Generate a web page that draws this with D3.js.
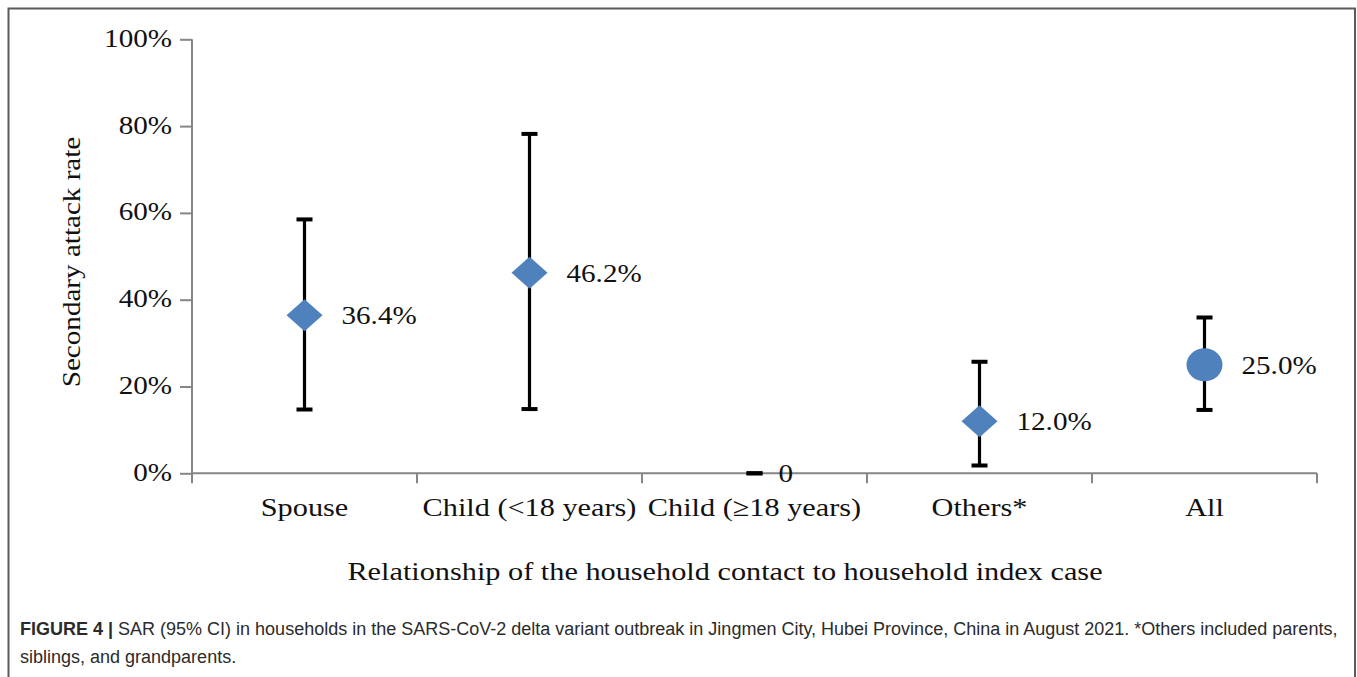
<!DOCTYPE html>
<html>
<head>
<meta charset="utf-8">
<script src="https://cdn.jsdelivr.net/npm/d3@7"></script>
<style>
  html, body { margin: 0; padding: 0; background: #ffffff; }
  svg { display: block; }
</style>
</head>
<body>
<svg id="chart" width="1357" height="677"></svg>
<script>
// Secondary attack rate by relationship to the index case (point estimate + 95% CI)
const categories = ["Spouse", "Child (<18 years)", "Child (\u226518 years)", "Others*", "All"];
const sar = [36.4, 46.2, 0, 12.0, 25.0];
const ciLower = [14.7, 14.8, 0, 1.8, 14.6];
const ciUpper = [58.5, 78.2, 0, 25.7, 35.9];
const markerShape = ["diamond", "diamond", "dash", "diamond", "circle"];
const valueLabels = ["36.4%", "46.2%", "0", "12.0%", "25.0%"];
const yTicks = [0, 20, 40, 60, 80, 100];

const captionBold = "FIGURE 4 |";
const captionLine1 = " SAR (95% CI) in households in the SARS-CoV-2 delta variant outbreak in Jingmen City, Hubei Province, China in August 2021. *Others included parents,";
const captionLine2 = "siblings, and grandparents.";

const svg = d3.select("#chart");
const serif = "'Liberation Serif', 'Times New Roman', serif";
const stretch = 1.165; // horizontal widening of the serif chart lettering
const blue = "#4f81bd";
const axisGrey = "#868686";

// frame around the figure
svg.append("rect")
  .attr("x", 8.5).attr("y", 8.5)
  .attr("width", 1346.5).attr("height", 720)
  .attr("fill", "none").attr("stroke", "#5a5a5a").attr("stroke-width", 2);

const plot = { left: 192, right: 1317, top: 39.3, bottom: 473.3 };

const x = d3.scaleBand().domain(categories).range([plot.left, plot.right]).padding(0);
const y = d3.scaleLinear().domain([0, 100]).range([plot.bottom, plot.top]);

// y axis
const yAxis = svg.append("g")
  .attr("transform", `translate(${plot.left},0)`)
  .call(d3.axisLeft(y).tickValues(yTicks).tickSize(12).tickPadding(8)
    .tickFormat(d => d + "%"));
yAxis.select(".domain").attr("stroke", axisGrey).attr("stroke-width", 2)
  .attr("d", `M0,${plot.top}V${plot.bottom}`);
yAxis.selectAll(".tick line").attr("stroke", axisGrey).attr("stroke-width", 2);
yAxis.selectAll(".tick text")
  .attr("font-family", serif).attr("font-size", 25).attr("fill", "#111")
  .attr("dy", null).attr("y", 0)
  .each(function () {
    const t = d3.select(this);
    const tx = +t.attr("x");
    t.attr("x", 0).attr("transform", `translate(${tx},7) scale(${stretch},1)`);
  });

// x axis baseline with ticks at category boundaries
const xAxis = svg.append("g").attr("transform", `translate(0,${plot.bottom})`);
xAxis.append("line")
  .attr("x1", plot.left).attr("x2", plot.right)
  .attr("stroke", axisGrey).attr("stroke-width", 2);
const edges = categories.map(c => x(c)).concat([x(categories[categories.length - 1]) + x.bandwidth()]);
xAxis.selectAll("line.edge").data(edges).join("line")
  .attr("class", "edge")
  .attr("x1", d => d).attr("x2", d => d)
  .attr("y1", 0).attr("y2", 10)
  .attr("stroke", axisGrey).attr("stroke-width", 2);

// category labels
svg.append("g").selectAll("text").data(categories).join("text")
  .attr("transform", d => `translate(${x(d) + x.bandwidth() / 2},516) scale(${stretch},1)`)
  .attr("text-anchor", "middle")
  .attr("font-family", serif).attr("font-size", 26).attr("fill", "#111")
  .text(d => d);

// axis titles
svg.append("text")
  .attr("transform", `translate(725,580) scale(${stretch},1)`)
  .attr("text-anchor", "middle")
  .attr("font-family", serif).attr("font-size", 26).attr("fill", "#111")
  .text("Relationship of the household contact to household index case");

svg.append("text")
  .attr("transform", `translate(80,262) rotate(-90) scale(${stretch},1)`)
  .attr("text-anchor", "middle")
  .attr("font-family", serif).attr("font-size", 25).attr("fill", "#111")
  .text("Secondary attack rate");

// error bars and markers
const rows = categories.map((c, i) => ({
  cat: c, v: sar[i], lo: ciLower[i], hi: ciUpper[i], shape: markerShape[i], label: valueLabels[i]
}));
const cx = d => x(d.cat) + x.bandwidth() / 2;

const bars = svg.append("g");
bars.selectAll("line.whisker").data(rows.filter(d => d.hi > d.lo)).join("line")
  .attr("class", "whisker")
  .attr("x1", cx).attr("x2", cx)
  .attr("y1", d => y(d.hi)).attr("y2", d => y(d.lo))
  .attr("stroke", "#000").attr("stroke-width", 3.2);
const caps = rows.flatMap(d => [{ cat: d.cat, v: d.hi }, { cat: d.cat, v: d.lo }]);
bars.selectAll("rect.cap").data(caps).join("rect")
  .attr("class", "cap")
  .attr("x", d => cx(d) - 8).attr("y", d => y(d.v) - 2)
  .attr("width", 16).attr("height", 4)
  .attr("fill", "#000");

const marks = svg.append("g");
rows.forEach(d => {
  const px = cx(d), py = y(d.v);
  if (d.shape === "diamond") {
    marks.append("path")
      .attr("d", `M${px - 18},${py} L${px},${py - 16} L${px + 18},${py} L${px},${py + 16} Z`)
      .attr("fill", blue);
  } else if (d.shape === "circle") {
    marks.append("ellipse")
      .attr("cx", px).attr("cy", py).attr("rx", 18).attr("ry", 16.5)
      .attr("fill", blue);
  }
});

// value labels beside each marker
svg.append("g").selectAll("text").data(rows).join("text")
  .attr("transform", d => `translate(${cx(d) + (d.shape === "dash" ? 24 : 37)},${y(d.v) + 9}) scale(${stretch},1)`)
  .attr("font-family", serif).attr("font-size", 25).attr("fill", "#111")
  .text(d => d.label);

// caption
const sans = "'Liberation Sans', Arial, sans-serif";
const cap1 = svg.append("text")
  .attr("x", 20).attr("y", 635)
  .attr("font-family", sans).attr("font-size", 18).attr("fill", "#2b2b2b");
cap1.append("tspan").attr("font-weight", "bold").text(captionBold);
cap1.append("tspan").text(captionLine1);
svg.append("text")
  .attr("x", 20).attr("y", 663)
  .attr("font-family", sans).attr("font-size", 18).attr("fill", "#2b2b2b")
  .text(captionLine2);
</script>
</body>
</html>
